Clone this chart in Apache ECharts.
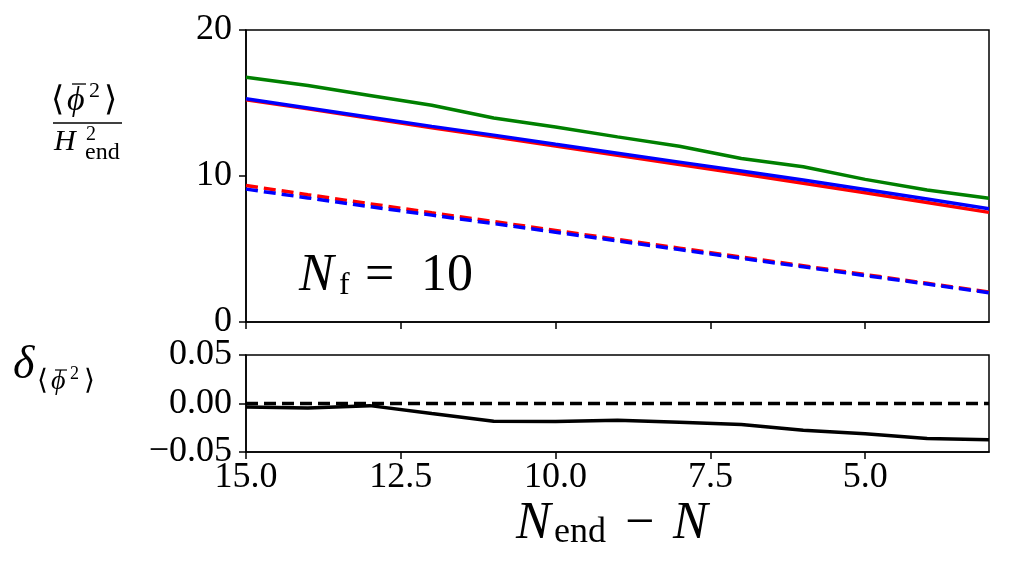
<!DOCTYPE html>
<html>
<head>
<meta charset="utf-8">
<script src="https://cdn.jsdelivr.net/npm/echarts@6/dist/echarts.min.js"></script>
<style>
  html, body { margin: 0; padding: 0; background: #fff; }
  #chart { width: 1012px; height: 575px; }
</style>
</head>
<body>
<div id="chart"></div>
<script>
// N_end - N
var nValues = [15, 14, 13, 12, 11, 10, 9, 8, 7, 6, 5, 4, 3];
var greenSolid = [16.77, 16.2, 15.52, 14.84, 13.97, 13.36, 12.68, 12.04, 11.2, 10.63, 9.77, 9.04, 8.47];
var redSolid = [15.22, 14.6, 13.95, 13.3, 12.68, 12.05, 11.42, 10.78, 10.15, 9.5, 8.85, 8.18, 7.51];
var blueSolid = [15.29, 14.66, 14.03, 13.4, 12.8, 12.17, 11.56, 10.95, 10.34, 9.72, 9.08, 8.42, 7.76];
var redDashed = [9.35, 8.72, 8.1, 7.48, 6.88, 6.27, 5.66, 5.06, 4.45, 3.85, 3.25, 2.65, 2.05];
var blueDashed = [9.1, 8.5, 7.9, 7.32, 6.74, 6.15, 5.56, 4.96, 4.36, 3.78, 3.18, 2.6, 2.0];
var delta = [-0.0036, -0.0046, -0.0022, -0.0104, -0.0183, -0.0186, -0.0172, -0.0193, -0.0217, -0.0275, -0.0312, -0.036, -0.0374];
var zeroLine = [0, 0, 0, 0, 0, 0, 0, 0, 0, 0, 0, 0, 0];
var xTicks = [15, 12.5, 10, 7.5, 5];

var font = 'Liberation Serif';

function pairs(ys) {
  return nValues.map(function (n, i) { return [n, ys[i]]; });
}

function line(name, data, color, dashed, axis) {
  return {
    name: name,
    type: 'line',
    xAxisIndex: axis,
    yAxisIndex: axis,
    data: pairs(data),
    showSymbol: false,
    animation: false,
    lineStyle: { color: color, width: 3.5, type: dashed ? [12, 6] : 'solid' }
  };
}

function txt(x, y, s, size, italic) {
  return {
    type: 'text', left: x, top: y,
    style: { text: s, font: (italic ? 'italic ' : '') + size + 'px ' + font, fill: '#000' }
  };
}

var chart = echarts.init(document.getElementById('chart'));

var axisCommon = {
  axisLine: { show: true, onZero: false, lineStyle: { color: '#000', width: 1.5 } },
  axisTick: { show: true, inside: false, length: 7, lineStyle: { color: '#000', width: 1.5 } },
  splitLine: { show: false }
};

chart.setOption({
  backgroundColor: '#fff',
  animation: false,
  grid: [
    { left: 246, right: 23, top: 30, height: 292, show: true, borderColor: '#000', borderWidth: 1.5 },
    { left: 246, right: 23, top: 355, height: 97, show: true, borderColor: '#000', borderWidth: 1.5 }
  ],
  xAxis: [
    Object.assign({}, axisCommon, {
      type: 'value', gridIndex: 0, min: 3, max: 15, inverse: true,
      axisTick: Object.assign({}, axisCommon.axisTick, { customValues: xTicks }),
      axisLabel: { show: false, customValues: xTicks }
    }),
    Object.assign({}, axisCommon, {
      type: 'value', gridIndex: 1, min: 3, max: 15, inverse: true,
      axisTick: Object.assign({}, axisCommon.axisTick, { customValues: xTicks }),
      axisLabel: {
        customValues: xTicks, margin: 8, color: '#000', fontFamily: font, fontSize: 36,
        formatter: function (v) { return v.toFixed(1); }
      }
    })
  ],
  yAxis: [
    Object.assign({}, axisCommon, {
      type: 'value', gridIndex: 0, min: 0, max: 20, interval: 10,
      axisLabel: { margin: 14, color: '#000', fontFamily: font, fontSize: 36 }
    }),
    Object.assign({}, axisCommon, {
      type: 'value', gridIndex: 1, min: -0.05, max: 0.05, interval: 0.05,
      axisLabel: {
        margin: 14, color: '#000', fontFamily: font, fontSize: 36,
        formatter: function (v) {
          var s = Math.abs(v).toFixed(2);
          return v < -1e-9 ? '\u2212' + s : s;
        }
      }
    })
  ],
  series: [
    line('green', greenSolid, '#008000', false, 0),
    line('red', redSolid, '#ff0000', false, 0),
    line('blue', blueSolid, '#0000ff', false, 0),
    line('red dashed', redDashed, '#ff0000', true, 0),
    line('blue dashed', blueDashed, '#0000ff', true, 0),
    line('zero', zeroLine, '#000', true, 1),
    line('delta', delta, '#000', false, 1)
  ],
  graphic: [
    // top y label: <phi-bar^2> / H_end^2
    txt(51, 84, '\u27e8', 34, false),
    txt(67, 84, '\u03d5', 34, true),
    { type: 'line', shape: { x1: 72, y1: 84, x2: 86, y2: 84 }, style: { stroke: '#000', lineWidth: 1.3 } },
    txt(89, 80, '2', 22, false),
    txt(104, 84, '\u27e9', 34, false),
    { type: 'line', shape: { x1: 53, y1: 123, x2: 122, y2: 123 }, style: { stroke: '#000', lineWidth: 1.5 } },
    txt(54, 127, 'H', 30, true),
    txt(86, 125, '2', 20, false),
    txt(85, 141, 'end', 24, false),
    // bottom y label: delta_<phi-bar^2>
    txt(13, 343, '\u03b4', 46, true),
    txt(37, 368, '\u27e8', 28, false),
    txt(51, 368, '\u03d5', 28, true),
    { type: 'line', shape: { x1: 55, y1: 370, x2: 67, y2: 370 }, style: { stroke: '#000', lineWidth: 1.2 } },
    txt(70, 365, '2', 18, false),
    txt(84, 368, '\u27e9', 28, false),
    // N_f = 10
    txt(299, 250, 'N', 52, true),
    txt(339, 270, 'f', 32, false),
    txt(365, 250, '=', 52, false),
    txt(421, 250, '10', 52, false),
    // x label: N_end - N
    txt(516, 498, 'N', 52, true),
    txt(554, 515, 'end', 36, false),
    txt(625, 498, '\u2212', 52, false),
    txt(673, 498, 'N', 52, true)
  ]
});
</script>
</body>
</html>
